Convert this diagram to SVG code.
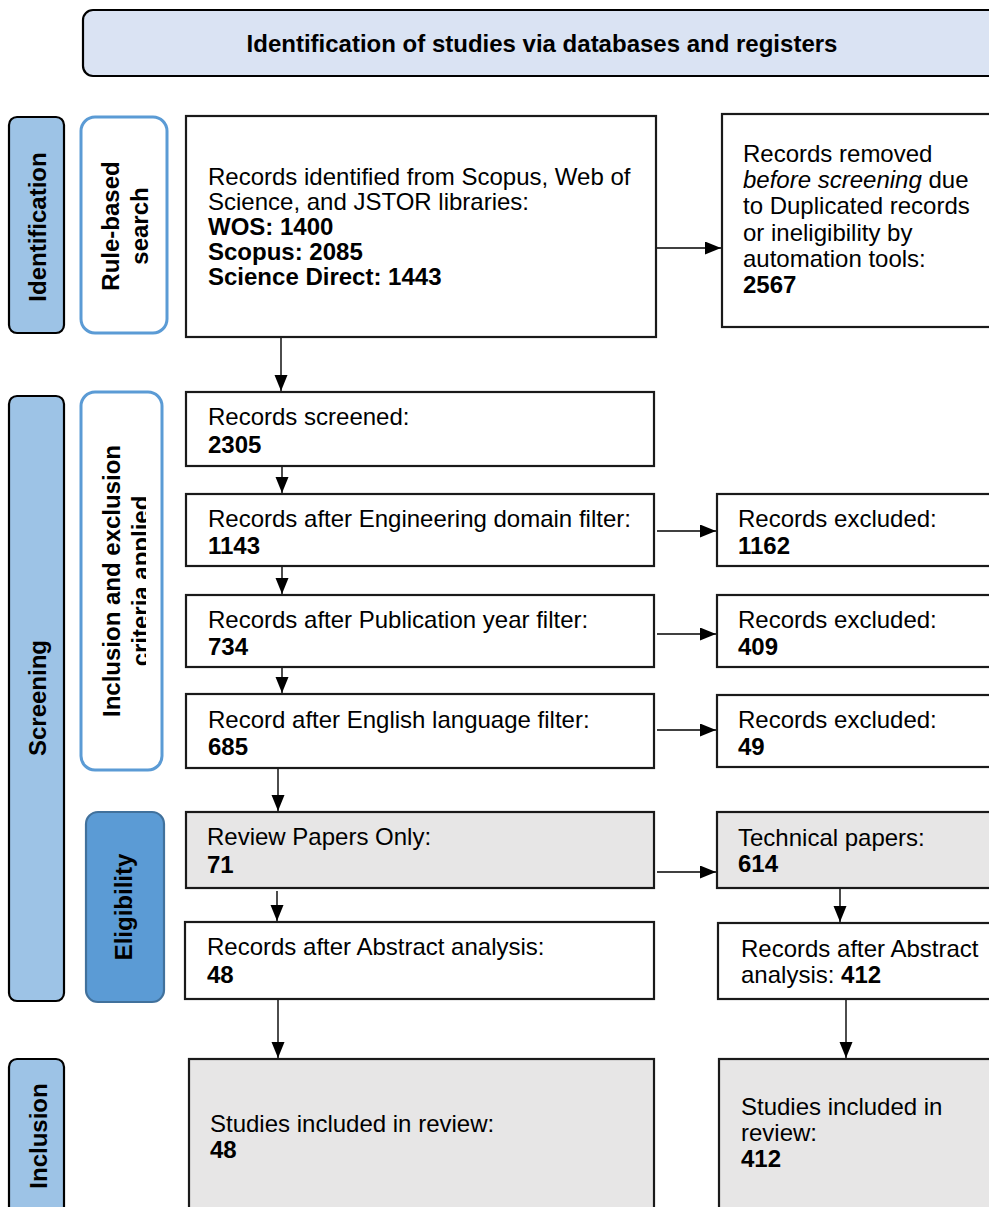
<svg xmlns="http://www.w3.org/2000/svg" width="989" height="1207" viewBox="0 0 989 1207">
  <defs>
    <style>
      text { font-family: "Liberation Sans", Arial, sans-serif; font-size: 24px; fill: #000; }
      .b { font-weight: bold; }
      .box { fill: #fff; stroke: #1a1a1a; stroke-width: 2.2; }
      .grey { fill: #e7e6e6; stroke: #1a1a1a; stroke-width: 2.2; }
      .phase { fill: #9dc3e6; stroke: #000; stroke-width: 2.2; }
      .sub { fill: #fff; stroke: #5b9bd5; stroke-width: 3; }
      .elig { fill: #5b9bd5; stroke: #41719c; stroke-width: 2.2; }
      .lbl { font-weight: bold; text-anchor: middle; }
      .conn line { stroke: #000; stroke-width: 1.4; marker-end: url(#arrow); }
    </style>
    <marker id="arrow" markerUnits="userSpaceOnUse" markerWidth="17" markerHeight="14" refX="16" refY="6.5" orient="auto">
      <path d="M0,0 L16,6.5 L0,13 z" fill="#000"/>
    </marker>
    <clipPath id="critClip" clipPathUnits="userSpaceOnUse">
      <rect x="0" y="380" width="146" height="400"/>
    </clipPath>
  </defs>

  <!-- header banner -->
  <g id="header">
    <rect x="83" y="10" width="940" height="66" rx="10" fill="#dae3f3" stroke="#000" stroke-width="2.2"/>
    <text class="b" x="542" y="52" text-anchor="middle">Identification of studies via databases and registers</text>
  </g>

  <!-- phase bars -->
  <g id="phase-identification">
    <rect class="phase" x="9" y="117" width="55" height="216" rx="8"/>
    <text class="lbl" transform="translate(46,227) rotate(-90)">Identification</text>
  </g>
  <g id="phase-rule-based">
    <rect class="sub" x="81" y="117" width="86" height="216" rx="14"/>
    <text class="lbl" transform="translate(119,226) rotate(-90)">Rule-based</text>
    <text class="lbl" transform="translate(148,226) rotate(-90)">search</text>
  </g>
  <g id="phase-screening">
    <rect class="phase" x="9" y="396" width="55" height="605" rx="8"/>
    <text class="lbl" transform="translate(46,698) rotate(-90)">Screening</text>
  </g>
  <g id="phase-criteria">
    <rect class="sub" x="81" y="392" width="81" height="378" rx="14"/>
    <text class="lbl" transform="translate(120,581) rotate(-90)">Inclusion and exclusion</text>
    <g clip-path="url(#critClip)">
      <text class="lbl" transform="translate(149,581) rotate(-90)">criteria applied</text>
    </g>
  </g>
  <g id="phase-eligibility">
    <rect class="elig" x="86" y="812" width="78" height="190" rx="12"/>
    <text class="lbl" transform="translate(132,907) rotate(-90)">Eligibility</text>
  </g>
  <g id="phase-inclusion">
    <rect class="phase" x="9" y="1059" width="55" height="200" rx="8"/>
    <text class="lbl" transform="translate(47,1136) rotate(-90)">Inclusion</text>
  </g>

  <!-- main flow boxes -->
  <g id="records-identified">
    <rect class="box" x="186" y="116" width="470" height="221"/>
    <text x="208" y="185">Records identified from Scopus, Web of</text>
    <text x="208" y="210">Science, and JSTOR libraries:</text>
    <text class="b" x="208" y="235">WOS: 1400</text>
    <text class="b" x="208" y="260">Scopus: 2085</text>
    <text class="b" x="208" y="285">Science Direct: 1443</text>
  </g>
  <g id="records-removed">
    <rect class="box" x="722" y="114" width="300" height="213"/>
    <text x="743" y="162">Records removed</text>
    <text x="743" y="188"><tspan font-style="italic">before screening</tspan> due</text>
    <text x="743" y="214">to Duplicated records</text>
    <text x="743" y="241">or ineligibility by</text>
    <text x="743" y="267">automation tools:</text>
    <text class="b" x="743" y="293">2567</text>
  </g>
  <g id="records-screened">
    <rect class="box" x="186" y="392" width="468" height="74"/>
    <text x="208" y="425">Records screened:</text>
    <text class="b" x="208" y="453">2305</text>
  </g>
  <g id="engineering-filter">
    <rect class="box" x="186" y="494" width="468" height="72"/>
    <text x="208" y="527">Records after Engineering domain filter:</text>
    <text class="b" x="208" y="554">1143</text>
  </g>
  <g id="year-filter">
    <rect class="box" x="186" y="595" width="468" height="72"/>
    <text x="208" y="628">Records after Publication year filter:</text>
    <text class="b" x="208" y="655">734</text>
  </g>
  <g id="language-filter">
    <rect class="box" x="186" y="694" width="468" height="74"/>
    <text x="208" y="728">Record after English language filter:</text>
    <text class="b" x="208" y="755">685</text>
  </g>
  <g id="excluded-1">
    <rect class="box" x="717" y="494" width="300" height="72"/>
    <text x="738" y="527">Records excluded:</text>
    <text class="b" x="738" y="554">1162</text>
  </g>
  <g id="excluded-2">
    <rect class="box" x="717" y="595" width="300" height="72"/>
    <text x="738" y="628">Records excluded:</text>
    <text class="b" x="738" y="655">409</text>
  </g>
  <g id="excluded-3">
    <rect class="box" x="717" y="695" width="300" height="72"/>
    <text x="738" y="728">Records excluded:</text>
    <text class="b" x="738" y="755">49</text>
  </g>
  <g id="review-papers">
    <rect class="grey" x="186" y="812" width="468" height="76"/>
    <text x="207" y="845">Review Papers Only:</text>
    <text class="b" x="207" y="873">71</text>
  </g>
  <g id="technical-papers">
    <rect class="grey" x="717" y="812" width="300" height="76"/>
    <text x="738" y="846">Technical papers:</text>
    <text class="b" x="738" y="872">614</text>
  </g>
  <g id="abstract-review">
    <rect class="box" x="185" y="922" width="469" height="77"/>
    <text x="207" y="955">Records after Abstract analysis:</text>
    <text class="b" x="207" y="983">48</text>
  </g>
  <g id="abstract-technical">
    <rect class="box" x="718" y="923" width="300" height="76"/>
    <text x="741" y="957">Records after Abstract</text>
    <text x="741" y="983">analysis: <tspan class="b">412</tspan></text>
  </g>
  <g id="included-review">
    <rect class="grey" x="189" y="1059" width="465" height="200"/>
    <text x="210" y="1132">Studies included in review:</text>
    <text class="b" x="210" y="1158">48</text>
  </g>
  <g id="included-technical">
    <rect class="grey" x="719" y="1059" width="300" height="200"/>
    <text x="741" y="1115">Studies included in</text>
    <text x="741" y="1141">review:</text>
    <text class="b" x="741" y="1167">412</text>
  </g>

  <!-- connectors -->
  <g id="connectors" class="conn">
    <line x1="281" y1="338" x2="281" y2="391"/>
    <line x1="657" y1="248" x2="721" y2="248"/>
    <line x1="282" y1="467" x2="282" y2="493"/>
    <line x1="282" y1="567" x2="282" y2="594"/>
    <line x1="282" y1="668" x2="282" y2="693"/>
    <line x1="278" y1="769" x2="278" y2="811"/>
    <line x1="277" y1="891" x2="277" y2="921"/>
    <line x1="278" y1="1000" x2="278" y2="1058"/>
    <line x1="657" y1="531" x2="716" y2="531"/>
    <line x1="657" y1="634" x2="716" y2="634"/>
    <line x1="657" y1="730" x2="716" y2="730"/>
    <line x1="657" y1="872" x2="716" y2="872"/>
    <line x1="840" y1="889" x2="840" y2="922"/>
    <line x1="846" y1="1000" x2="846" y2="1058"/>
  </g>
</svg>
